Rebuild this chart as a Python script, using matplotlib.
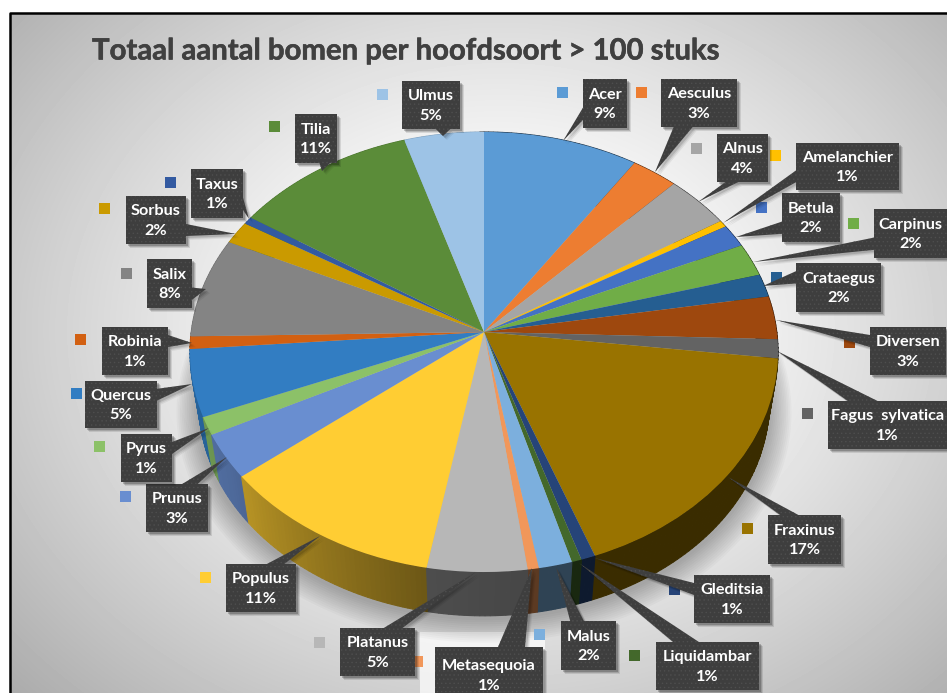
import numpy as np
import matplotlib
matplotlib.use("Agg")
import matplotlib.pyplot as plt
import matplotlib.patheffects as pe
import matplotlib.transforms as mtransforms
from matplotlib.patches import Rectangle

species = ["Acer", "Aesculus", "Alnus", "Amelanchier", "Betula", "Carpinus", "Crataegus", "Diversen",
           "Fagus  sylvatica", "Fraxinus", "Gleditsia", "Liquidambar", "Malus", "Metasequoia", "Platanus",
           "Populus", "Prunus", "Pyrus", "Quercus", "Robinia", "Salix", "Sorbus", "Taxus", "Tilia", "Ulmus"]
shares = [9.33, 2.81, 3.94, 0.5, 1.69, 2.42, 1.69, 3.17, 1.39, 17.47, 0.72, 0.5, 1.69, 0.56, 5.03,
          11.42, 3.28, 1.31, 4.92, 0.92, 7.36, 1.67, 0.56, 10.97, 4.78]
percent_labels = ["9%", "3%", "4%", "1%", "2%", "2%", "2%", "3%", "1%", "17%", "1%", "1%", "2%", "1%", "5%",
                  "11%", "3%", "1%", "5%", "1%", "8%", "2%", "1%", "11%", "5%"]
colors = ["#5B9BD5", "#ED7D31", "#A5A5A5", "#FFC000", "#4472C4", "#70AD47", "#255E91", "#9E480E",
          "#636363", "#997300", "#264478", "#43682B", "#7CAFDD", "#F1975A", "#B7B7B7",
          "#FFCD33", "#698ED0", "#8CC168", "#327DC2", "#D26012", "#848484", "#CA9A00", "#335AA1", "#5B8C39", "#9DC3E6"]

# label layout in pixels: box x0, y0, x1, y1, pointer tip x, y, legend square x, y
label_layout = [
    (583, 79, 627, 128, 563, 141, 562, 92),
    (661, 79, 737, 127, 655, 172, 641, 92),
    (717, 134, 768, 182, 698, 202, 696, 148),
    (796, 143, 899, 190, 723, 223, 775, 155),
    (782, 193, 840, 242, 736, 237, 761, 207),
    (874, 209, 947, 258, 753, 262, 853, 223),
    (796, 263, 881, 312, 763, 286, 776, 277),
    (870, 327, 946, 375, 776, 320, 849, 342),
    (828, 401, 947, 449, 777, 351, 807, 413),
    (768, 515, 841, 564, 728, 477, 747, 528),
    (694, 575, 770, 623, 595, 558, 674, 589),
    (656, 642, 759, 690, 579, 563, 634, 655),
    (561, 621, 616, 670, 556, 567, 539, 634),
    (435, 647, 543, 703, 532, 568, 417, 661),
    (340, 628, 415, 676, 476, 572, 319, 642),
    (226, 564, 296, 612, 320, 536, 205, 577),
    (146, 484, 208, 532, 227, 457, 125, 496),
    (121, 434, 172, 482, 209, 428, 99, 446),
    (85, 381, 157, 428, 192, 384, 76, 393),
    (102, 327, 168, 375, 192, 343, 80, 339),
    (147, 259, 192, 308, 206, 289, 126, 273),
    (126, 196, 186, 244, 236, 234, 104, 208),
    (191, 169, 243, 218, 249, 219, 170, 182),
    (295, 114, 337, 163, 322, 171, 274, 126),
    (402, 81, 460, 129, 443, 136, 382, 94),
]

plt.rcParams["font.family"] = ["Lato", "DejaVu Sans"]
plt.rcParams["hatch.linewidth"] = 0.5


class TiltedDisc(mtransforms.Transform):
    # perspective view of the unit circle, result in pixel coordinates
    input_dims = 2
    output_dims = 2

    def __init__(self, scale=1.0, cy=332.0):
        super().__init__()
        self.scale = scale
        self.cy = cy

    def transform_non_affine(self, values):
        u, v = values[:, 0], values[:, 1]
        w = 1 + v / 11
        return np.column_stack([484 + self.scale * 292.8 * u / w, self.cy - self.scale * 218.2 * v / w])


def darken(color, factor):
    return tuple(np.array(matplotlib.colors.to_rgb(color)) * factor)


def callout_pointer(x0, y0, x1, y1, tx, ty):
    # base of the pointer sits on the box side the tip points at
    w, h = x1 - x0, y1 - y0
    dx, dy = tx - (x0 + x1) / 2, ty - (y0 + y1) / 2
    if abs(dx / w) > abs(dy / h):
        a, b = (7 / 12, 5 / 6) if dy > 0 else (1 / 6, 5 / 12)
        ex = x1 if dx > 0 else x0
        return [tx, ex, ex], [ty, y0 + a * h, y0 + b * h]
    a, b = (7 / 12, 5 / 6) if dx > 0 else (1 / 6, 5 / 12)
    ey = y1 if dy > 0 else y0
    return [tx, x0 + a * w, x0 + b * w], [ty, ey, ey]


fig = plt.figure(figsize=(9.47, 6.93), dpi=100)
ax = fig.add_axes([0, 0, 1, 1])

# grey radial background inside the chart border
yy, xx = np.mgrid[13:693, 10:947]
r = np.sqrt(((xx - 500) / 500) ** 2 + ((yy - 330) / 400) ** 2)
grey = np.clip(1.0 - 0.3 * np.clip(r - 0.25, 0, None) ** 1.2, 0, 1)
ax.imshow(grey, cmap="gray", vmin=0, vmax=1, extent=(10, 947, 693, 13), aspect="auto", zorder=0)
ax.plot([9.5, 9.5, 947], [693, 12.5, 12.5], color="black", lw=1.8, zorder=1)
ax.add_patch(Rectangle((420, 632), 125, 61, fc="white", ec="none", alpha=0.7, zorder=1))

# soft shadow under the pie
circle = np.linspace(0, 2 * np.pi, 200)
unit = np.column_stack([np.cos(circle), np.sin(circle)])
for i in range(12):
    ring = TiltedDisc(0.98 + i * 0.006, 385 + i * 0.6).transform(unit)
    ax.fill(ring[:, 0], ring[:, 1], color="black", alpha=0.022, lw=0, zorder=2)

wedges, _ = ax.pie(shares, colors=colors, startangle=90, counterclock=False)

top_disc = TiltedDisc(1.0, 332)
bottom_disc = TiltedDisc(0.97, 383)

# side wall, back slices first
order = sorted(range(len(wedges)), key=lambda i: np.sin(np.radians((wedges[i].theta1 + wedges[i].theta2) / 2)), reverse=True)
for i in order:
    w = wedges[i]
    steps = np.radians(np.linspace(w.theta1, w.theta2, max(3, int(w.theta2 - w.theta1) + 2)))
    points = np.column_stack([np.cos(steps), np.sin(steps)])
    upper = top_disc.transform(points)
    lower = bottom_disc.transform(points)
    for j in range(len(steps) - 1):
        clockwise = (90 - np.degrees(steps[j])) % 360
        shade = np.interp(clockwise, [95, 170, 190, 235, 270], [0.38, 0.38, 0.42, 0.74, 0.85])
        wall_color = darken(colors[i], shade)
        ax.fill([upper[j, 0], upper[j + 1, 0], lower[j + 1, 0], lower[j, 0]],
                [upper[j, 1], upper[j + 1, 1], lower[j + 1, 1], lower[j, 1]],
                facecolor=wall_color, edgecolor=wall_color, lw=0.8, zorder=3)

for w in wedges:
    w.set_transform(top_disc + ax.transData)
    w.set_zorder(4)
    w.set_edgecolor("none")

ax.text(92, 59.5, "Totaal aantal bomen per hoofdsoort > 100 stuks", fontsize=21.1, fontweight="bold",
        color="#404040", zorder=5, path_effects=[pe.withStroke(linewidth=0.4, foreground="#404040")])

# legend squares and callout boxes
for i, name in enumerate(species):
    x0, y0, x1, y1, tx, ty, sx, sy = label_layout[i]
    ax.add_patch(Rectangle((sx - 5.5, sy - 5.5), 11, 11, fc=colors[i], ec="none", zorder=5))

    xs, ys = callout_pointer(x0, y0, x1, y1, tx, ty)
    z = 6 + i * 0.01
    for off, alpha in ((4, 0.10), (3, 0.14), (2, 0.2)):
        ax.add_patch(Rectangle((x0 + off, y0 + off), x1 - x0, y1 - y0, fc="black", ec="none", alpha=alpha, zorder=z))
        ax.fill(np.array(xs) + off, np.array(ys) + off, color="black", alpha=alpha * 0.6, lw=0, zorder=z)
    ax.fill(xs, ys, facecolor="#3E3E3E", edgecolor="#4E4E4E", hatch="....", lw=0, zorder=z + 0.002)
    ax.add_patch(Rectangle((x0, y0), x1 - x0, y1 - y0, facecolor="#3E3E3E", edgecolor="#4E4E4E", hatch="....", lw=0,
                           zorder=z + 0.002))
    ax.text((x0 + x1) / 2, (y0 + y1) / 2 + 1, name + "\n" + percent_labels[i], color="white", fontsize=11.7,
            fontweight="bold", ha="center", va="center", linespacing=1.47, zorder=z + 0.004)

ax.set_xlim(0, 947)
ax.set_ylim(693, 0)
ax.set_aspect("auto")
ax.axis("off")
fig.savefig("out.png", dpi=100, facecolor="white")
